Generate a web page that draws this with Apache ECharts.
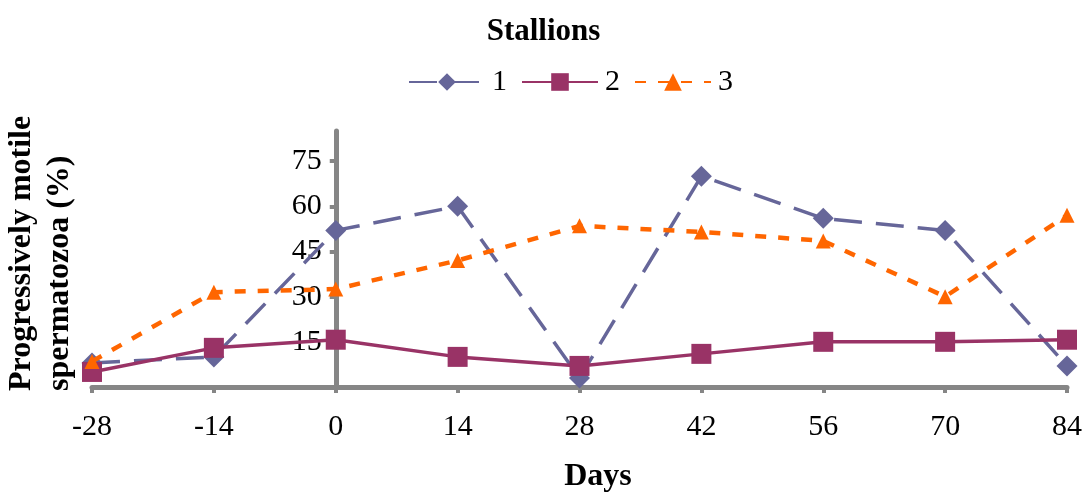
<!DOCTYPE html>
<html><head><meta charset="utf-8">
<script src="https://cdn.jsdelivr.net/npm/echarts@6/dist/echarts.min.js"></script>
<style>html,body{margin:0;padding:0;background:#fff}#c{width:1087px;height:493px}</style>
</head><body><div id="c"></div>
<script>
const days = [-28, -14, 0, 14, 28, 42, 56, 70, 84];
const stallion1 = [8, 10, 52, 60, 3, 70, 56, 52, 7];
const stallion2 = [5, 13, 15.7, 10, 7, 11, 15, 15, 15.7];
const stallion3 = [8.5, 31.5, 32.5, 42, 53.5, 51.5, 48.5, 30, 57];
const yTicks = [15, 30, 45, 60, 75];
const seriesNames = ['1', '2', '3'];

const FONT = 'Liberation Serif';
const AXIS = '#868686';
const pairs = vals => days.map((d, i) => [d, vals[i]]);

const GRID_LEFT = 92, GRID_RIGHT = 20;
const plotW = 1087 - GRID_LEFT - GRID_RIGHT;
// y axis crosses the x axis at day 0
const yAxisOffset = -plotW * (0 - days[0]) / (days[days.length - 1] - days[0]);

const chart = echarts.init(document.getElementById('c'));
chart.setOption({
  backgroundColor: '#fff',
  animation: false,
  title: {
    text: 'Stallions', left: 'center', top: 11,
    textStyle: { fontFamily: FONT, fontWeight: 'bold', fontSize: 31, color: '#000' }
  },
  legend: {
    data: seriesNames, left: 403, top: 62,
    itemWidth: 76, itemHeight: 22, itemGap: 14,
    textStyle: { fontFamily: FONT, fontSize: 30, color: '#000', padding: [0, 0, 0, 2] }
  },
  grid: { left: GRID_LEFT, right: GRID_RIGHT, top: 131, bottom: 106, outerBoundsMode: 'none' },
  xAxis: {
    type: 'value', min: -28, max: 84, interval: 14,
    splitLine: { show: false },
    axisLine: { show: true, lineStyle: { color: AXIS, width: 5 } },
    axisTick: { show: true, length: 6, lineStyle: { color: AXIS, width: 4 } },
    axisLabel: { fontFamily: FONT, fontSize: 30, color: '#000', margin: 25 }
  },
  yAxis: {
    type: 'value', min: 0, max: 85, interval: 15,
    offset: yAxisOffset,
    splitLine: { show: false },
    axisLine: { show: true, onZero: false, lineStyle: { color: AXIS, width: 5 } },
    axisTick: { show: true, length: 6, customValues: yTicks, lineStyle: { color: AXIS, width: 4 } },
    axisLabel: { fontFamily: FONT, fontSize: 30, color: '#000', margin: 14, customValues: yTicks }
  },
  graphic: [
    {
      type: 'text', x: 41, y: 391, rotation: Math.PI / 2,
      style: {
        text: 'Progressively motile\nspermatozoa (%)',
        font: 'bold 32px "Liberation Serif"', fill: '#000',
        textAlign: 'left', textVerticalAlign: 'middle', lineHeight: 38
      }
    },
    {
      type: 'text', x: 598, y: 477,
      style: {
        text: 'Days', font: 'bold 32px "Liberation Serif"', fill: '#000',
        textAlign: 'center', textVerticalAlign: 'middle'
      }
    }
  ],
  series: [
    {
      name: seriesNames[0], type: 'line', data: pairs(stallion1),
      symbol: 'diamond', symbolSize: 21, z: 2,
      itemStyle: { color: '#666699' },
      lineStyle: { color: '#666699', width: 3.5, type: [28, 14] }
    },
    {
      name: seriesNames[1], type: 'line', data: pairs(stallion2),
      symbol: 'rect', symbolSize: 20, z: 3,
      itemStyle: { color: '#993366' },
      lineStyle: { color: '#993366', width: 3.5, type: 'solid' }
    },
    {
      name: seriesNames[2], type: 'line', data: pairs(stallion3),
      symbol: 'triangle', symbolSize: 15, z: 4,
      itemStyle: { color: '#FF6600' },
      lineStyle: { color: '#FF6600', width: 4.5, type: [11, 12] }
    }
  ]
});
</script>
</body></html>
